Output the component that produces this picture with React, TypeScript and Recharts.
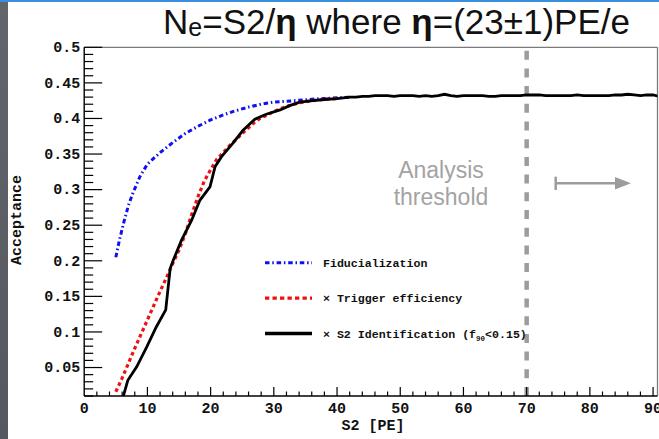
import { Legend, Line, LineChart, ReferenceLine, XAxis, YAxis } from "recharts";

// [S2 (PE), acceptance]
const fiducialization: [number, number][] = [
  [5, 0.205], [5.5, 0.226], [6.2, 0.252], [7, 0.278], [7.7, 0.295], [8.8, 0.318],
  [10, 0.336], [12, 0.352], [14, 0.366], [16, 0.379], [18, 0.389], [20, 0.398],
  [22, 0.405], [24, 0.411], [26, 0.416], [28, 0.42], [30, 0.423], [32, 0.424],
  [34, 0.4256], [36, 0.427], [38, 0.428], [40, 0.429], [42, 0.43],
];

const triggerEfficiency: [number, number][] = [
  [5, 0.016], [6, 0.035], [7, 0.056], [8, 0.077], [9, 0.097], [10, 0.117],
  [11, 0.137], [12, 0.157], [13, 0.176], [14, 0.196], [15, 0.215], [16, 0.238],
  [17, 0.265], [18, 0.29], [19, 0.312], [20, 0.328], [21, 0.343], [22, 0.352],
  [23, 0.362], [24, 0.37], [25, 0.379], [26, 0.387], [27, 0.395], [28, 0.401],
  [29, 0.405], [30, 0.41], [32, 0.417], [34, 0.422], [36, 0.425], [38, 0.427], [40, 0.428],
];

const s2Identification: [number, number][] = [
  [6.2, 0.01], [6.9, 0.032], [8.3, 0.051], [9.9, 0.079], [11.4, 0.107], [12.9, 0.131],
  [13.6, 0.189], [14.1, 0.201], [15.4, 0.229], [17, 0.257], [18.3, 0.285], [19.9, 0.304],
  [20.7, 0.332], [21.7, 0.346], [23.5, 0.365], [25.1, 0.383], [27, 0.399], [28.8, 0.406],
  [31, 0.412], [32.5, 0.418], [34.1, 0.423], [36.2, 0.425], [38.5, 0.427],
  [40, 0.428], [41, 0.429], [42, 0.43], [43, 0.43], [44, 0.431], [45, 0.431], [46, 0.432],
  [47, 0.432], [48, 0.432], [49, 0.431], [50, 0.432], [51, 0.432], [52, 0.432], [53, 0.431],
  [54, 0.432], [55, 0.431], [56, 0.432], [57, 0.434], [58, 0.432], [59, 0.431], [60, 0.432],
  [61, 0.432], [62, 0.432], [63, 0.432], [64, 0.431], [65, 0.431], [66, 0.432], [67, 0.432],
  [68, 0.432], [69, 0.432], [70, 0.433], [71, 0.433], [72, 0.433], [73, 0.432], [74, 0.432],
  [75, 0.432], [76, 0.432], [77, 0.432], [78, 0.433], [79, 0.432], [80, 0.432], [81, 0.432],
  [82, 0.432], [83, 0.432], [84, 0.433], [85, 0.433], [86, 0.434], [87, 0.433], [88, 0.432],
  [89, 0.433], [90, 0.433], [91, 0.431],
];

const xTicks = [0, 2, 4, 6, 8, 10, 12, 14, 16, 18, 20, 22, 24, 26, 28, 30, 32, 34, 36, 38, 40,
  42, 44, 46, 48, 50, 52, 54, 56, 58, 60, 62, 64, 66, 68, 70, 72, 74, 76, 78, 80, 82, 84, 86, 88, 90];
const yTicks = Array.from({ length: 50 }, (_, i) => (i + 1) / 100);

const THRESHOLD = 70;

const legendItems = [
  { label: "Fiducialization", color: "#1010ee", dash: "4.5 2.8 1.5 2.8", width: 3 },
  { label: "× Trigger efficiency", color: "#ee1111", dash: "4.3 3.2", width: 3.2 },
  { label: "× S2 Identification (f", sub: "90", tail: "<0.15)", color: "#000", dash: "", width: 3.6 },
];

const MONO = '"Liberation Mono", "DejaVu Sans Mono", monospace';
const SANS = '"Liberation Sans", Arial, Helvetica, sans-serif';
const GRAY = "#9c9c9c";

const rows = (pts: [number, number][]) => pts.map(([s2, acc]) => ({ s2, acc }));

function YTick({ x, y, payload }: any) {
  const v = payload.value as number;
  const major = Math.round(v * 100) % 5 === 0;
  const ax = x + 4;
  return (
    <g>
      <line x1={ax} x2={ax + (major ? 18 : 9)} y1={y} y2={y} stroke="#000" strokeWidth={1.2} />
      {major && (
        <text x={x} y={y + 4.8} textAnchor="end" fontFamily={MONO} fontWeight="bold" fontSize={15} fill="#111">
          {String(Math.round(v * 100) / 100)}
        </text>
      )}
    </g>
  );
}

function XTick({ x, y, payload }: any) {
  const v = payload.value as number;
  const major = v % 10 === 0;
  return (
    <g>
      {v > 0 && <line x1={x} x2={x} y1={y} y2={y - (major ? 9 : 4.5)} stroke="#000" strokeWidth={1.2} />}
      {major && (
        <text x={x} y={y + 16.5} textAnchor="middle" fontFamily={MONO} fontWeight="bold" fontSize={15} fill="#111">
          {v}
        </text>
      )}
    </g>
  );
}

function LegendBox() {
  return (
    <svg width={300} height={95}>
      {legendItems.map((it, i) => {
        const cy = 12.7 + i * 35.4;
        return (
          <g key={it.label}>
            <line x1={5} x2={52} y1={cy} y2={cy} stroke={it.color} strokeWidth={it.width} strokeDasharray={it.dash || undefined} />
            <text x={63} y={cy + 4} fontFamily={MONO} fontWeight="bold" fontSize={11.6} fill="#111">
              {it.label}
              {it.sub && (
                <>
                  <tspan fontSize={7.5} dy={3}>{it.sub}</tspan>
                  <tspan dy={-3}>{it.tail}</tspan>
                </>
              )}
            </text>
          </g>
        );
      })}
    </svg>
  );
}

export default function App() {
  return (
    <div style={{ position: "absolute", left: 0, top: 0, width: 659, height: 439, background: "#fff", overflow: "hidden" }}>
      <div style={{ position: "absolute", left: 0, top: 2, width: 8, height: 437, background: "linear-gradient(#62656c, #55585f)" }} />
      <div style={{ position: "absolute", left: 0, top: 0, width: 659, height: 2, background: "#3a8fdc" }} />
      <div style={{ position: "absolute", left: 0, top: 0 }}>
        <LineChart width={659} height={439} margin={{ top: 47.3, right: 1.5, bottom: 13, left: 0 }}>
          <XAxis
            dataKey="s2"
            type="number"
            domain={[0, 90.7]}
            ticks={xTicks}
            interval={0}
            allowDataOverflow
            height={30}
            tickSize={0}
            tickMargin={0}
            tickLine={false}
            axisLine={{ stroke: "#000", strokeWidth: 1.4 }}
            tick={(p: any) => <XTick {...p} />}
          />
          <YAxis
            type="number"
            domain={[0.01, 0.5]}
            ticks={yTicks}
            interval={0}
            allowDataOverflow
            width={84.2}
            tickSize={0}
            tickMargin={4}
            tickLine={false}
            axisLine={{ stroke: "#000", strokeWidth: 1.4 }}
            tick={(p: any) => <YTick {...p} />}
          />
          <ReferenceLine y={0.5} stroke="#7a7a7a" strokeWidth={1.3} />
          <ReferenceLine x={90.7} stroke="#7a7a7a" strokeWidth={1.3} />
          <ReferenceLine x={THRESHOLD} stroke={GRAY} strokeWidth={4.5} strokeDasharray="9 8.7" />
          <Line
            data={rows(fiducialization)}
            dataKey="acc"
            type="linear"
            stroke="#1010ee"
            strokeWidth={3}
            strokeDasharray="4.5 2.8 1.5 2.8"
            dot={false}
            activeDot={false}
            isAnimationActive={false}
          />
          <Line
            data={rows(triggerEfficiency)}
            dataKey="acc"
            type="linear"
            stroke="#ee1111"
            strokeWidth={3.2}
            strokeDasharray="3.6 3"
            dot={false}
            activeDot={false}
            isAnimationActive={false}
          />
          <Line
            data={rows(s2Identification)}
            dataKey="acc"
            type="linear"
            stroke="#000"
            strokeWidth={2.8}
            dot={false}
            activeDot={false}
            isAnimationActive={false}
          />
          <Legend verticalAlign="middle" align="center" content={() => <LegendBox />} wrapperStyle={{ left: 260, top: 250, width: 300 }} />
        </LineChart>
      </div>
      <svg width={659} height={439} style={{ position: "absolute", left: 0, top: 0, pointerEvents: "none" }}>
        <text x={163} y={33.5} fontFamily={SANS} fontSize={35} fill="#111">
          <tspan>N</tspan>
          <tspan fontSize={25} dy={2.5}>e</tspan>
          <tspan dy={-2.5}>=S2/</tspan>
          <tspan fontWeight="bold">η</tspan>
          <tspan> where </tspan>
          <tspan fontWeight="bold">η</tspan>
          <tspan>=(23±1)PE/e</tspan>
        </text>
        <text transform="translate(21,220) rotate(-90)" textAnchor="middle" fontFamily={MONO} fontWeight="bold" fontSize={15} fill="#111">
          Acceptance
        </text>
        <text x={373} y={430} textAnchor="middle" fontFamily={MONO} fontWeight="bold" fontSize={15} fill="#111">
          S2 [PE]
        </text>
        <text x={441} y={178} textAnchor="middle" fontFamily={SANS} fontSize={23} fill="#a3a3a3">Analysis</text>
        <text x={441} y={205} textAnchor="middle" fontFamily={SANS} fontSize={23} fill="#a3a3a3">threshold</text>
        <line x1={555.7} x2={555.7} y1={176.7} y2={190} stroke={GRAY} strokeWidth={2.5} />
        <line x1={555.7} x2={617} y1={183.3} y2={183.3} stroke={GRAY} strokeWidth={2.5} />
        <polygon points="615,177 631,183.3 615,189.6" fill={GRAY} />
      </svg>
    </div>
  );
}
